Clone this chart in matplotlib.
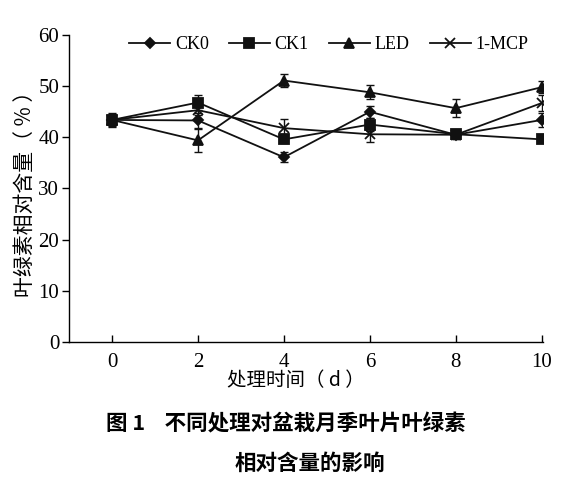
import matplotlib
matplotlib.use("Agg")
import matplotlib.pyplot as plt

days = [0, 2, 4, 6, 8, 10]
series_names = ["CK0", "CK1", "LED", "1-MCP"]
ck0 = [43.4, 43.3, 36.1, 45.0, 40.5, 43.4]
ck1 = [43.4, 46.8, 39.6, 42.5, 40.6, 39.6]
led = [43.4, 39.4, 51.1, 48.8, 45.7, 49.8]
mcp = [43.4, 45.3, 41.8, 40.6, 40.5, 46.7]
ck0_err = [1.0, 1.4, 1.0, 1.2, 0.8, 1.4]
ck1_err = [1.2, 1.5, 0.8, 1.2, 0.8, 0.5]
led_err = [1.3, 2.3, 1.2, 1.4, 1.7, 1.2]
mcp_err = [1.0, 1.0, 1.8, 1.5, 0.8, 1.5]
yticks = [0, 10, 20, 30, 40, 50, 60]
xticks = [0, 2, 4, 6, 8, 10]

serif = ["Liberation Serif", "DejaVu Serif"]
cjk = ["Noto Sans CJK SC", "DejaVu Sans"]

fig = plt.figure(figsize=(5.63, 4.84), dpi=100)
ax = fig.add_axes([0.1226, 0.2934, 0.8419, 0.6343])

markers = ["D", "s", "^", "x"]
sizes = [5.5, 6.5, 7, 7]
vals = [ck0, ck1, led, mcp]
errs = [ck0_err, ck1_err, led_err, mcp_err]
handles = []
for name, m, ms, v, e in zip(series_names, markers, sizes, vals, errs):
    ax.errorbar(days, v, yerr=e, fmt="none", ecolor="#111111", elinewidth=1.0,
                capsize=3, capthick=1.0, zorder=2)
    h, = ax.plot(days, v, color="#111111", lw=1.3, marker=m, markersize=ms,
                 markeredgewidth=1.3, label=name, zorder=3)
    handles.append(h)

ax.set_xlim(-1.0, 10.03)
ax.set_ylim(0, 60)
ax.set_xticks(xticks)
ax.set_yticks(yticks)
ax.spines["top"].set_visible(False)
ax.spines["right"].set_visible(False)
for s in ["left", "bottom"]:
    ax.spines[s].set_linewidth(1.0)
ax.tick_params(axis="x", direction="in", length=5, width=1.0, pad=8)
ax.tick_params(axis="y", direction="out", length=5, width=1.0, pad=2)
for lab in ax.get_xticklabels() + ax.get_yticklabels():
    lab.set_family(serif)
    lab.set_fontsize(15)

ax.set_ylabel("叶绿素相对含量（ % ）", family=cjk, fontsize=15, labelpad=2)

leg = ax.legend(handles=handles, loc="center", bbox_to_anchor=(0.548, 0.968),
                ncol=4, frameon=False, handlelength=2.3, handletextpad=0.25,
                columnspacing=1.1, prop={"family": serif, "size": 13})

fig.text(0.525, 0.213, "处理时间（ d ）", family=cjk, fontsize=14,
         ha="center", va="center")
fig.text(0.507, 0.125, "图 1    不同处理对盆栽月季叶片叶绿素", family=cjk,
         fontsize=15.5, fontweight="bold", ha="center", va="center")
fig.text(0.551, 0.043, "相对含量的影响", family=cjk, fontsize=15.5,
         fontweight="bold", ha="center", va="center")

fig.savefig("out.png", dpi=100)
